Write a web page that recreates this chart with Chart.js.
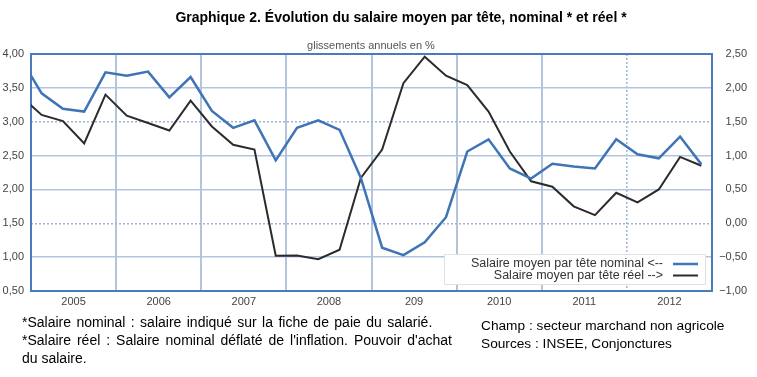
<!DOCTYPE html>
<html><head><meta charset="utf-8">
<script src="https://cdn.jsdelivr.net/npm/chart.js@4.4.1/dist/chart.umd.min.js"></script>
<style>
html,body{margin:0;padding:0;background:#fff;}
#wrap{position:relative;width:757px;height:377px;overflow:hidden;font-family:"Liberation Sans",Arial,sans-serif;}
#c{position:absolute;left:0;top:0;}
.t{position:absolute;white-space:nowrap;}
.fn{font-size:14px;line-height:18px;color:#000;}
</style></head><body>
<div id="wrap">
<canvas id="c" width="757" height="377"></canvas>
<div class="t" style="left:401px;top:9px;transform:translateX(-50%);font-weight:bold;font-size:14px;line-height:16px;color:#000;">Graphique 2. Évolution du salaire moyen par tête, nominal * et réel *</div>
<div class="t" style="left:371px;top:39px;transform:translateX(-50%);font-size:11px;line-height:13px;color:#555;">glissements annuels en %</div>
<div class="t fn" style="left:22px;top:313px;word-spacing:1.5px;">*Salaire nominal : salaire indiqué sur la fiche de paie du salarié.</div>
<div class="t fn" style="left:22px;top:331px;width:430px;white-space:normal;text-align:justify;text-align-last:justify;">*Salaire réel : Salaire nominal déflaté de l'inflation. Pouvoir d'achat</div>
<div class="t fn" style="left:22px;top:348.5px;">du salaire.</div>
<div class="t fn" style="left:481px;top:317px;font-size:13.7px;">Champ : secteur marchand non agricole</div>
<div class="t fn" style="left:481px;top:334.5px;font-size:13.7px;">Sources : INSEE, Conjonctures</div>
</div>
<script>
// Quarterly data (annual growth, %) — first point (2004T4) lies just left of the plot and is clipped
const quarters = ['2004T4',
  '2005T1','2005T2','2005T3','2005T4','2006T1','2006T2','2006T3','2006T4',
  '2007T1','2007T2','2007T3','2007T4','2008T1','2008T2','2008T3','2008T4',
  '2009T1','2009T2','2009T3','2009T4','2010T1','2010T2','2010T3','2010T4',
  '2011T1','2011T2','2011T3','2011T4','2012T1','2012T2','2012T3','2012T4'];
const years = ['2005','2006','2007','2008','209','2010','2011','2012'];
const nominal = [3.94,
  3.42,3.19,3.15,3.73, 3.68,3.74,3.36,3.66,
  3.16,2.91,3.02,2.43, 2.91,3.02,2.88,2.17,
  1.14,1.03,1.22,1.59, 2.56,2.74,2.31,2.16,
  2.38,2.34,2.31,2.74, 2.52,2.46,2.78,2.37];
const reel = [1.88,
  1.60,1.51,1.18,1.90, 1.59,1.48,1.37,1.81,
  1.43,1.16,1.09,-0.48, -0.475,-0.53,-0.39,0.67,
  1.09,2.07,2.46,2.18, 2.04,1.65,1.06,0.62,
  0.54,0.25,0.12,0.45, 0.31,0.50,0.98,0.85];
const seriesNames = ['Salaire moyen par tête nominal', 'Salaire moyen par tête réel'];
const legendLabels = ['Salaire moyen par tête nominal <--', 'Salaire moyen par tête réel -->'];
const leftTicks = [0.5,1.0,1.5,2.0,2.5,3.0,3.5,4.0];
const rightTicks = [-1.0,-0.5,0.0,0.5,1.0,1.5,2.0,2.5];

const FONT = '"Liberation Sans", Arial, sans-serif';
const BLUE = '#3f74b6';
const FRAME = '#4a7bbb';
const GRID = '#b3c5dd';
const DOT = '#9fb5d4';

// x position of each quarter: middle of the quarter, first year starts at 0
const xOf = i => i - 0.5;
const fmt = v => (v < 0 ? '\u2212' : '') + Math.abs(v).toFixed(2).replace('.', ',');

const legendBox = {
  id: 'legendBox',
  afterDatasetsDraw(chart) {
    const {ctx, chartArea: a} = chart;
    ctx.save();
    const right = a.right - 6, bottom = a.bottom - 6;
    const w = 262, h = 31;
    const x0 = right - w, y0 = bottom - h;
    ctx.fillStyle = '#fff';
    ctx.fillRect(x0, y0, w, h);
    ctx.strokeStyle = '#c2c2c2'; ctx.lineWidth = 1; ctx.setLineDash([1, 1]);
    ctx.strokeRect(x0 + 0.5, y0 + 0.5, w - 1, h - 1);
    ctx.font = '12.5px ' + FONT;
    chart.data.datasets.forEach((ds, i) => {
      const y = y0 + 10 + i * 11.5;
      ctx.textAlign = 'right'; ctx.textBaseline = 'middle'; ctx.fillStyle = '#333';
      ctx.fillText(legendLabels[i], right - 43, y);
      ctx.strokeStyle = ds.borderColor; ctx.lineWidth = ds.borderWidth; ctx.setLineDash([]);
      ctx.beginPath(); ctx.moveTo(right - 33, y); ctx.lineTo(right - 8, y); ctx.stroke();
    });
    ctx.restore();
  }
};

new Chart(document.getElementById('c'), {
  type: 'line',
  data: {
    datasets: [
      {label: seriesNames[0], yAxisID: 'y', xAxisID: 'x',
       data: nominal.map((v, i) => ({x: xOf(i), y: v})),
       borderColor: BLUE, borderWidth: 2.5, pointRadius: 0, tension: 0, fill: false},
      {label: seriesNames[1], yAxisID: 'y2', xAxisID: 'x',
       data: reel.map((v, i) => ({x: xOf(i), y: v})),
       borderColor: '#2c2a2a', borderWidth: 2, pointRadius: 0, tension: 0, fill: false}
    ]
  },
  options: {
    responsive: false, animation: false, devicePixelRatio: 1,
    layout: {padding: {left: 0, right: 10, top: 54, bottom: 66}},
    plugins: {legend: {display: false}, tooltip: {enabled: false}, title: {display: false}},
    scales: {
      x: {
        type: 'linear', position: 'bottom', min: 0, max: years.length * 4,
        afterBuildTicks: s => { s.ticks = []; for (let v = 0; v <= years.length * 4; v += 2) s.ticks.push({value: v}); },
        afterFit: s => { s.height = 20; },
        ticks: {autoSkip: false, maxRotation: 0, padding: 4, color: '#444', font: {family: FONT, size: 11},
          callback: v => (v % 4 === 2 ? years[(v - 2) / 4] : '')},
        grid: {drawTicks: false, lineWidth: 2,
          color: c => { const v = c.tick && c.tick.value; return (v % 4 === 0 && v > 0 && v < 28) ? GRID : 'transparent'; }},
        border: {display: true, color: FRAME, width: 2}
      },
      x2: {
        type: 'linear', position: 'top', min: 0, max: years.length * 4,
        afterBuildTicks: s => { s.ticks = [{value: 28}]; },
        afterFit: s => { s.height = 0; },
        ticks: {display: false},
        grid: {drawTicks: false, lineWidth: 1.5, color: DOT},
        border: {display: false, dash: [2, 2]}
      },
      y: {
        position: 'left', min: 0.5, max: 4.0,
        afterBuildTicks: s => { s.ticks = leftTicks.map(v => ({value: v})); },
        afterFit: s => { s.width = 31; },
        ticks: {padding: 7, color: '#444', font: {family: FONT, size: 11}, callback: v => fmt(v)},
        grid: {drawTicks: false,
          color: c => { const v = c.tick && c.tick.value; if (v === 4) return FRAME; if (v === 3 || v === 1.5 || v === 0.5) return 'transparent'; return GRID; },
          lineWidth: c => (c.tick && c.tick.value === 4 ? 2 : 1.5)},
        border: {display: true, color: FRAME, width: 2}
      },
      y2: {
        position: 'right', min: -1.0, max: 2.5,
        afterBuildTicks: s => { s.ticks = rightTicks.map(v => ({value: v})); },
        afterFit: s => { s.width = 35; },
        ticks: {crossAlign: 'far', color: '#444', font: {family: FONT, size: 11}, callback: v => fmt(v)},
        grid: {drawTicks: false, lineWidth: 1.5,
          color: c => { const v = c.tick && c.tick.value; return (v === 1.5 || v === 0) ? DOT : 'transparent'; }},
        border: {display: true, color: FRAME, width: 2, dash: [2, 2]}
      }
    }
  },
  plugins: [legendBox]
});
</script>
</body></html>
